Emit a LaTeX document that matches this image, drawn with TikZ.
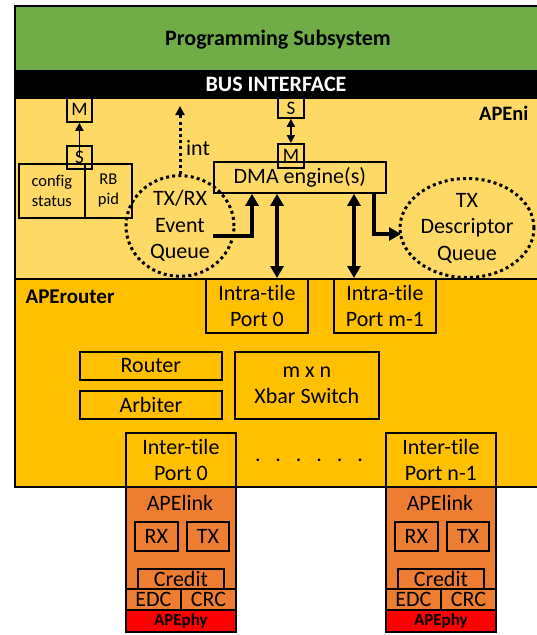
\documentclass[tikz,border=0pt]{standalone}
\usepackage{fontspec}
\setmainfont[Ligatures={NoCommon}]{Carlito}
\usetikzlibrary{arrows.meta,shapes.geometric,calc}
\definecolor{psgreen}{HTML}{70AD47}
\definecolor{niyellow}{HTML}{FFD966}
\definecolor{routeryellow}{HTML}{FFC000}
\definecolor{linkorange}{HTML}{ED7D31}
\definecolor{phyred}{HTML}{FF0000}

\begin{document}
\begin{tikzpicture}[x=1pt,y=-1pt,
  box/.style={draw, line width=1.8pt, anchor=north west, inner sep=0pt, align=center},
  region/.style={draw, line width=1.8pt, anchor=north west, inner sep=0pt},
  big/.style={font=\fontsize{22}{26}\selectfont},
  bigb/.style={font=\bfseries\fontsize{22}{26}\selectfont},
  small/.style={font=\fontsize{16.5}{20}\selectfont},
  port/.style={font=\fontsize{19}{20}\selectfont},
  link/.style={font=\fontsize{22}{24}\selectfont},
  dots/.style={line width=3pt, dash pattern=on 3pt off 3.2pt},
  queue/.style={ellipse, draw, dots, inner sep=0pt, align=center,
                font=\fontsize{22}{26.5}\selectfont},
  thinarrow/.style={line width=1.8pt},
  tip/.style={-{Triangle[length=8pt,width=8pt]}},
  bigarrow/.style={line width=4pt, -{Triangle[length=12pt,width=13pt]}},
  bigdouble/.style={line width=4pt, {Triangle[length=12pt,width=13pt]}-{Triangle[length=12pt,width=13pt]}},
]
\useasboundingbox (0,0) rectangle (537,635);
\clip (0,0) rectangle (537,635);

% ---- layers of the tile ----
\node[region, fill=psgreen, minimum width=530pt, minimum height=65pt] (prog) at (14,5) {};
\node[region, fill=black, minimum width=530pt, minimum height=27pt] (bus) at (14,70) {};
\node[region, fill=niyellow, minimum width=530pt, minimum height=181pt] (ni) at (14,97) {};
\node[region, fill=routeryellow, minimum width=530pt, minimum height=208pt] (router) at (14,278) {};

\node[bigb] (progtxt) at (278,40) {Programming Subsystem};
\node[bigb, text=white] (bustxt) at (276,84) {BUS INTERFACE};
\node[anchor=east, font=\bfseries\fontsize{20.5}{24}\selectfont] (nitxt) at (532,113) {APEni};
\node[anchor=west, font=\bfseries\fontsize{21}{24}\selectfont] (routertxt) at (22,297) {APErouter};

% ---- APEni contents ----
\node[box, small, minimum width=66pt, minimum height=54pt] (config) at (18,163) {config\\status};
\node[box, small, minimum width=47pt, minimum height=54pt] (rbpid) at (84,163) {RB\\pid};
\node[box, port, minimum width=25pt, minimum height=23pt] (s1) at (66,145) {S};
\node[box, port, minimum width=25pt, minimum height=24pt] (m1) at (66,97) {M};
\draw[thinarrow, tip] (s1.center) -- (m1.south);

\node[box, big, minimum width=172pt, minimum height=31pt] (dma) at (213,161) {DMA engine(s)};
\node[box, port, minimum width=26pt, minimum height=24pt] (m2) at (277,143) {M};
\node[box, port, minimum width=26pt, minimum height=20pt] (s2) at (277,97) {S};
\draw[thinarrow, {Triangle[length=8pt,width=8pt]}-{Triangle[length=8pt,width=8pt]}] (s2.south) -- (m2.north);

\node[queue, minimum width=108pt, minimum height=90pt] (evq) at (180,226) {TX/RX\\Event\\Queue};
\node[queue, minimum width=134pt, minimum height=88pt] (txd) at (467,228) {TX\\Descriptor\\Queue};

\coordinate (inttip) at (180,106);
\draw[dots, -{Triangle[length=9pt,width=9pt]}] (evq.north) -- (inttip);
\node[big] (inttxt) at (198,148) {int};

\coordinate (evqout) at (213,236);
\coordinate (dmain) at (252,0);
\draw[bigarrow] (evqout) -| (dma.south -| dmain);
\coordinate (dmaout) at (374,0);
\coordinate (txin) at (401,234);
\draw[bigarrow] (dma.south -| dmaout) |- (txin);

% ---- APErouter contents ----
\node[box, big, minimum width=102pt, minimum height=54pt] (intra0) at (205,278) {Intra-tile\\Port 0};
\node[box, big, minimum width=102pt, minimum height=54pt] (intram) at (333,278) {Intra-tile\\Port m-1};
\coordinate (c0) at (277,0);
\coordinate (cm) at (354,0);
\draw[bigdouble] (dma.south -| c0) -- (intra0.north -| c0);
\draw[bigdouble] (dma.south -| cm) -- (intram.north -| cm);

\node[box, big, minimum width=142pt, minimum height=28pt] (routing) at (79,351) {Router};
\node[box, big, minimum width=142pt, minimum height=28pt] (arbiter) at (79,390) {Arbiter};
\node[box, big, minimum width=144pt, minimum height=67pt] (xbar) at (234,351) {m x n\\Xbar Switch};

\node[box, big, minimum width=110pt, minimum height=54pt] (inter0) at (125,432) {Inter-tile\\Port 0};
\node[box, big, minimum width=110pt, minimum height=54pt] (intern) at (385,432) {Inter-tile\\Port n-1};
\node[big] (dotrow) at (309,460) {.\ \ \ .\ \ \ .\ \ \ .\ \ \ .\ \ \ .};

% ---- APElink columns ----
\foreach \nm/\dx in {a/0, b/260} {
  \node[box, fill=linkorange, minimum width=110pt, minimum height=123pt] (link\nm) at (125+\dx,486) {};
  \node[big] (linktxt\nm) at (180+\dx,503) {APElink};
  \node[box, link, minimum width=43pt, minimum height=29pt] (rx\nm) at (134+\dx,521) {RX};
  \node[box, link, minimum width=42pt, minimum height=29pt] (tx\nm) at (186+\dx,521) {TX};
  \node[box, link, minimum width=86pt, minimum height=20pt] (credit\nm) at (137+\dx,568) {Credit};
  \node[box, link, minimum width=55pt, minimum height=21pt] (edc\nm) at (125+\dx,588) {EDC};
  \node[box, link, minimum width=55pt, minimum height=21pt] (crc\nm) at (180+\dx,588) {CRC};
  \node[box, fill=phyred, font=\bfseries\fontsize{17}{18}\selectfont, minimum width=110pt, minimum height=22pt] (phy\nm) at (125+\dx,609) {APEphy};
}
\end{tikzpicture}
\end{document}
